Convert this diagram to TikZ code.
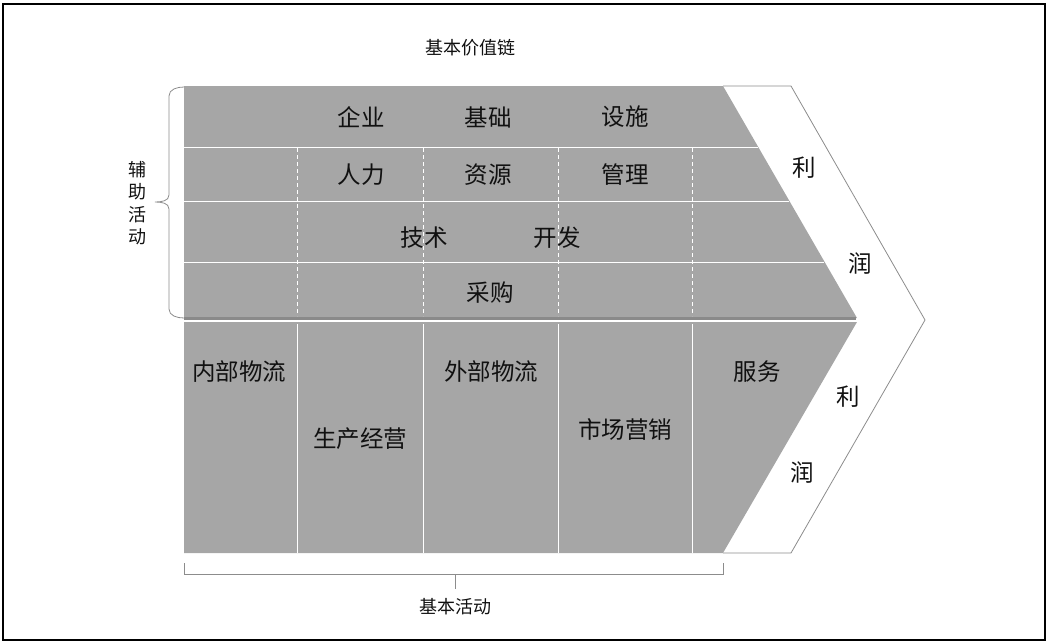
\documentclass[tikz,border=0pt]{standalone}
\usepackage{fontspec}
\setmainfont{Noto Sans CJK SC}
\definecolor{blockgray}{HTML}{A6A6A6}
\definecolor{bandgray}{HTML}{8A8A8A}
\definecolor{linegray}{HTML}{8C8C8C}
\definecolor{txt}{HTML}{111111}
\begin{document}
\begin{tikzpicture}[x=1pt,y=-1pt,
  big/.style={font=\fontsize{23.5}{26}\selectfont, text=txt, inner sep=0pt},
  small/.style={font=\fontsize{18}{20}\selectfont, text=txt, inner sep=0pt},
  sep/.style={white, line width=1pt},
  dsep/.style={white, line width=1pt, dash pattern=on 4pt off 3pt},
  outline/.style={linegray, line width=0.8pt}]
\useasboundingbox (0,0) rectangle (1048,643);
\draw[black, line width=1.3pt] (3,4) rectangle (1045,640);
% upper block (support activities)
\fill[blockgray] (184,86) -- (723,86) -- (857,318) -- (184,318) -- cycle;
\draw[bandgray, line width=3pt] (184,318) -- (856,318);
% lower block (primary activities)
\fill[blockgray] (184,322) -- (857,322) -- (723,553) -- (184,553) -- cycle;
% margin chevron
\draw[outline] (723,86) -- (791,86) -- (925,320) -- (791,553) -- (723,553);
% horizontal separators in upper block
\draw[sep] (184,147) -- (758,147);
\draw[sep] (184,201) -- (789,201);
\draw[sep] (184,262) -- (824,262);
% dashed verticals in upper block
\foreach \x in {297,423,558,692} {\draw[dsep] (\x,148) -- (\x,316);}
% solid verticals in lower block
\foreach \x in {297,423,558,692} {\draw[sep] (\x,324) -- (\x,553);}
% titles
\node[small] (title) at (470,48) {基本价值链};
% support activities text
\node[big] (a1) at (361,117) {企业};
\node[big] (a2) at (488,117) {基础};
\node[big] (a3) at (625,117) {设施};
\node[big] (b1) at (361,175) {人力};
\node[big] (b2) at (488,175) {资源};
\node[big] (b3) at (625,175) {管理};
\node[big] (c1) at (424,238) {技术};
\node[big] (c2) at (557,238) {开发};
\node[big] (d1) at (490,293) {采购};
% primary activities text
\node[big] (p1) at (239,372) {内部物流};
\node[big] (p2) at (360,439) {生产经营};
\node[big] (p3) at (491,372) {外部物流};
\node[big] (p4) at (625,430) {市场营销};
\node[big] (p5) at (757,372) {服务};
% profit
\node[big] (m1) at (804,168) {利};
\node[big] (m2) at (860,263) {润};
\node[big] (m3) at (848,397) {利};
\node[big] (m4) at (802,472) {润};
% left brace
\draw[outline] (184,87) to[out=180,in=90] (169,96) -- (169,195) to[out=-90,in=0] (155,202) to[out=0,in=90] (169,209) -- (169,309) to[out=-90,in=180] (184,318);
\node[small, align=center, font=\fontsize{18}{22.5}\selectfont] (supp) at (137,203) {辅\\助\\活\\动};
% bottom bracket
\coordinate (bl) at (184,563);
\coordinate (br) at (723,563);
\draw[outline] (bl) -- (184,574) -- (723,574) -- (br);
\coordinate (bm) at (455,574);
\draw[outline] (bm) -- (455,589);
\node[small] (prim) at (455,607) {基本活动};
\end{tikzpicture}
\end{document}
